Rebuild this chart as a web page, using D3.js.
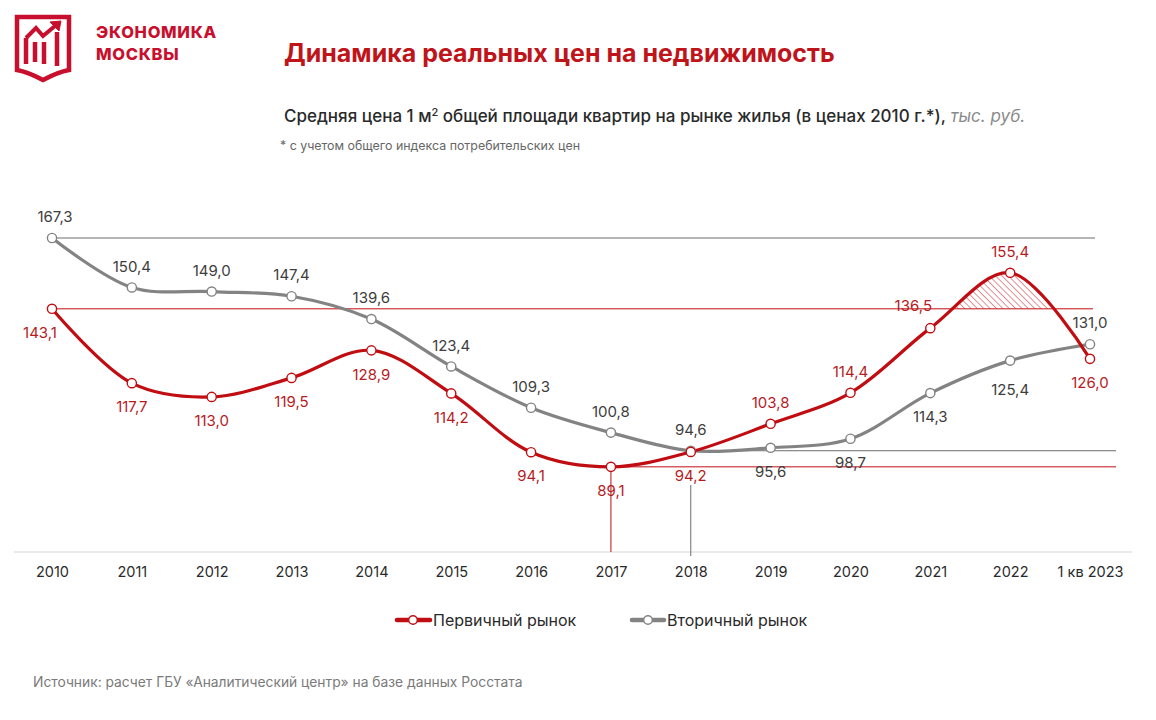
<!DOCTYPE html>
<html><head><meta charset="utf-8">
<script src="https://cdn.jsdelivr.net/npm/d3@7"></script>
<style>
body{margin:0;background:#fff;}
text{font-family:"Inter","Lato",sans-serif;}
</style></head>
<body><svg id="c" width="1156" height="720"></svg>
<script>
const categories = ["2010","2011","2012","2013","2014","2015","2016","2017","2018","2019","2020","2021","2022","1 кв 2023"];
const primaryValues = [143.1,117.7,113.0,119.5,128.9,114.2,94.1,89.1,94.2,103.8,114.4,136.5,155.4,126.0];
const secondaryValues = [167.3,150.4,149.0,147.4,139.6,123.4,109.3,100.8,94.6,95.6,98.7,114.3,125.4,131.0];
const primaryLabelSide = ["below","below","below","below","below","below","below","below","below","above","above","above","above","below"];
const secondaryLabelSide = ["above","above","above","above","above","above","above","above","above","below","below","below","below","above"];
const seriesNames = ["Первичный рынок","Вторичный рынок"];

const RED = "#c00d12", GRAY = "#838383";
const RED_T = "#b51c1f", GRAY_T = "#3d3d3d";
const fmt = v => v.toFixed(1).replace(".", ",");

const svg = d3.select("#c");
const x = d3.scalePoint().domain(categories).range([52, 1090]);
const y = d3.scaleLinear().domain([60, 167.3]).range([552, 238]);

// logo
const logo = svg.append("g").attr("fill","none").attr("stroke","#c8102e").attr("stroke-width",4.5).attr("stroke-linejoin","miter");
logo.append("path").attr("d","M17,17 H69 V70 Q58,72 43,80 Q28,72 17,70 Z");
logo.append("path").attr("d","M26,38 L36,28 L43,36 L55,26").attr("stroke-width",4);
logo.append("path").attr("d","M50,22 L61,21 L59,31 Z").attr("fill","#c8102e").attr("stroke-width",1);
logo.append("path").attr("d","M26,38 V64 M35,42 V62 M44,42 V64 M57,32 V66");
svg.append("text").attr("x",96).attr("y",38).attr("fill","#c8102e").attr("font-weight",800).attr("font-size",16.5).attr("letter-spacing",0.7).text("ЭКОНОМИКА");
svg.append("text").attr("x",96).attr("y",60).attr("fill","#c8102e").attr("font-weight",800).attr("font-size",16.5).attr("letter-spacing",0.7).text("МОСКВЫ");

// titles
svg.append("text").attr("x",284).attr("y",62).attr("fill","#c0141b").attr("font-weight",700).attr("font-size",25).text("Динамика реальных цен на недвижимость");
const sub = svg.append("text").attr("x",284).attr("y",122).attr("fill","#2a2a2a").attr("font-size",17).attr("font-weight",500);
sub.append("tspan").text("Средняя цена 1 м");
sub.append("tspan").attr("font-size",11).attr("dy",-6).text("2");
sub.append("tspan").attr("dy",6).text(" общей площади квартир на рынке жилья (в ценах 2010 г.*), ");
sub.append("tspan").attr("font-style","italic").attr("font-weight",400).attr("fill","#8a8a8a").text("тыс. руб.");
svg.append("text").attr("x",280).attr("y",150).attr("fill","#666").attr("font-size",12.4).text("* с учетом общего индекса потребительских цен");

// baseline
svg.append("line").attr("x1",14).attr("x2",1132).attr("y1",y(60)).attr("y2",y(60)).attr("stroke","#d6d6d6").attr("stroke-width",1.2);

// reference lines
svg.append("line").attr("x1",x(categories[0])).attr("x2",1095).attr("y1",y(secondaryValues[0])).attr("y2",y(secondaryValues[0])).attr("stroke","#6d6d6d").attr("stroke-width",1);
svg.append("line").attr("x1",x(categories[0])).attr("x2",1093).attr("y1",y(primaryValues[0])).attr("y2",y(primaryValues[0])).attr("stroke","#c00d12").attr("stroke-width",1);
svg.append("line").attr("x1",x(categories[8])).attr("x2",1116).attr("y1",y(secondaryValues[8])).attr("y2",y(secondaryValues[8])).attr("stroke","#6d6d6d").attr("stroke-width",1);
svg.append("line").attr("x1",x(categories[7])).attr("x2",1116).attr("y1",y(primaryValues[7])).attr("y2",y(primaryValues[7])).attr("stroke","#c00d12").attr("stroke-width",1);
svg.append("line").attr("x1",x(categories[7])).attr("x2",x(categories[7])).attr("y1",y(primaryValues[7])).attr("y2",y(60)).attr("stroke","#c00d12").attr("stroke-width",1);
svg.append("line").attr("x1",x(categories[8])).attr("x2",x(categories[8])).attr("y1",y(primaryValues[8])+33).attr("y2",y(60)+4).attr("stroke","#6d6d6d").attr("stroke-width",1);

// hatch
const defs = svg.append("defs");
const pat = defs.append("pattern").attr("id","hatch").attr("patternUnits","userSpaceOnUse").attr("width",4.5).attr("height",4.5).attr("patternTransform","rotate(-45)");
pat.append("line").attr("x1",0).attr("y1",0).attr("x2",0).attr("y2",4.5).attr("stroke","#c00d12").attr("stroke-width",0.9);
defs.append("clipPath").attr("id","hclip").append("rect")
  .attr("x",x(categories[11])).attr("width",x(categories[13])-x(categories[11]))
  .attr("y",0).attr("height",y(primaryValues[0]));
const curve = d3.curveCatmullRom.alpha(0.5);
svg.append("path").datum(primaryValues)
  .attr("d", d3.area().x((d,i)=>x(categories[i])).y0(y(primaryValues[0])).y1(d=>y(d)).curve(curve))
  .attr("fill","url(#hatch)").attr("clip-path","url(#hclip)");

// lines
const line = d3.line().x((d,i)=>x(categories[i])).y(d=>y(d)).curve(curve);
svg.append("path").datum(secondaryValues).attr("d",line).attr("fill","none").attr("stroke",GRAY).attr("stroke-width",3.2);
svg.append("path").datum(primaryValues).attr("d",line).attr("fill","none").attr("stroke",RED).attr("stroke-width",3.2);

function markers(vals, color){
  svg.append("g").selectAll("circle").data(vals).join("circle")
    .attr("cx",(d,i)=>x(categories[i])).attr("cy",d=>y(d)).attr("r",4.6)
    .attr("fill","#fff").attr("stroke",color).attr("stroke-width",1.4);
}
markers(secondaryValues, GRAY);
markers(primaryValues, RED);

function labels(vals, sides, color, extra){
  svg.append("g").selectAll("text").data(vals).join("text")
    .attr("x",(d,i)=>x(categories[i]) + (extra[i]?extra[i][0]:0))
    .attr("y",(d,i)=>y(d) + (sides[i]==="above"?-21:24) + (extra[i]?extra[i][1]:0))
    .attr("dy","0.35em").attr("text-anchor","middle").attr("font-size",15).attr("fill",color)
    .text(d=>fmt(d));
}
labels(secondaryValues, secondaryLabelSide, GRAY_T, {0:[3,0],12:[0,5]});
labels(primaryValues, primaryLabelSide, RED_T, {0:[-12,0],11:[-17,-1]});

// x axis
const ax = svg.append("g").attr("transform",`translate(0,${y(60)})`)
  .call(d3.axisBottom(x).tickSize(0).tickPadding(15));
ax.select(".domain").remove();
ax.selectAll("text").attr("font-size",14.5).attr("fill","#2a2a2a").style("font-family","Inter,Lato,sans-serif");

// legend
const leg = [[397,430,413,433,RED],[632,664,648,667,GRAY]];
leg.forEach((l,i)=>{
  svg.append("line").attr("x1",l[0]).attr("x2",l[1]).attr("y1",620).attr("y2",620).attr("stroke",l[4]).attr("stroke-width",4.5).attr("stroke-linecap","round");
  svg.append("circle").attr("cx",l[2]).attr("cy",620).attr("r",4.3).attr("fill","#fff").attr("stroke",l[4]).attr("stroke-width",1.4);
  svg.append("text").attr("x",l[3]).attr("y",620).attr("dy","0.35em").attr("font-size",16).attr("fill","#2a2a2a").text(seriesNames[i]);
});

svg.append("text").attr("x",33).attr("y",682).attr("dy","0.35em").attr("font-size",13.8).attr("fill","#7a7a7a")
  .text("Источник: расчет ГБУ «Аналитический центр» на базе данных Росстата");
</script></body></html>
